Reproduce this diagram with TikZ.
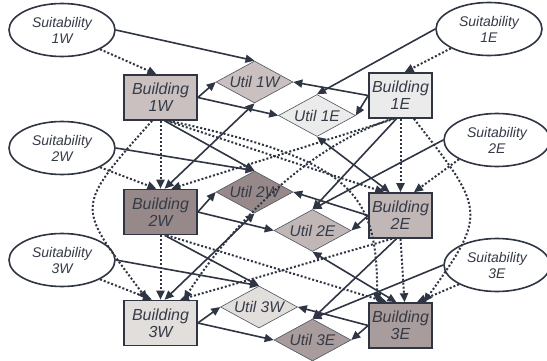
\documentclass[tikz,border=0pt]{standalone}
\usepackage{fontspec}
\setmainfont{Liberation Sans}
\usepackage{tikz}
\usetikzlibrary{arrows.meta,shapes}
\definecolor{ink}{HTML}{2F3542}
\definecolor{txt}{HTML}{363B48}
\definecolor{west1}{HTML}{C9C0BF}
\definecolor{east1}{HTML}{EBEBEB}
\definecolor{west2}{HTML}{978989}
\definecolor{east2}{HTML}{C1B7B7}
\definecolor{west3}{HTML}{E1DEDC}
\definecolor{east3}{HTML}{A89C9C}

\begin{document}
\begin{tikzpicture}[
    x=1pt, y=1pt,
    suit/.style = {ellipse, draw=ink, line width=1.6pt, fill=white, minimum width=106pt, minimum height=53pt, inner sep=0pt, align=center, text=txt, font=\fontsize{14}{16}\selectfont\itshape},
    bldw/.style = {rectangle, draw=ink, line width=1.6pt, minimum width=73pt, minimum height=45pt, inner sep=0pt, align=center, text=txt, font=\fontsize{16}{17}\selectfont\itshape},
    blde/.style = {bldw, minimum width=63pt},
    util/.style = {diamond, aspect=1.85, draw=ink!85, line width=0.6pt, minimum width=77pt, minimum height=42pt, inner sep=0pt, text=txt, font=\fontsize{15.5}{17}\selectfont\itshape},
    link/.style = {draw=ink, line width=1.6pt, -{Triangle[length=9pt,width=8pt]}},
    both/.style = {link, {Triangle[length=9pt,width=8pt]}-{Triangle[length=9pt,width=8pt]}},
    info/.style = {draw=ink, line width=2pt, dash pattern=on 2pt off 2pt, -{Triangle[length=9pt,width=8pt]}},
]
    \fill[white] (0,0) rectangle (547,360);
    \useasboundingbox (0,0) rectangle (547,360);

    % suitability
    \node[suit] (s1w) at (62,330) {Suitability\\1W};
    \node[suit] (s2w) at (62,212) {Suitability\\2W};
    \node[suit] (s3w) at (62,100) {Suitability\\3W};
    \node[suit] (s1e) at (489,331) {Suitability\\1E};
    \node[suit] (s2e) at (497,220) {Suitability\\2E};
    \node[suit] (s3e) at (497,95) {Suitability\\3E};

    % buildings
    \node[bldw, fill=west1] (b1w) at (160.5,262.5) {Building\\1W};
    \node[bldw, fill=west2] (b2w) at (160.5,148) {Building\\2W};
    \node[bldw, fill=west3] (b3w) at (160.5,37) {Building\\3W};
    \node[blde, fill=east1] (b1e) at (400.5,264.5) {Building\\1E};
    \node[blde, fill=east2] (b2e) at (400.5,144.5) {Building\\2E};
    \node[blde, fill=east3] (b3e) at (400.5,34.5) {Building\\3E};

    % utilities
    \node[util, fill=west1] (u1w) at (254.5,278) {Util 1W};
    \node[util, fill=east1] (u1e) at (317,244.5) {Util 1E};
    \node[util, fill=west2] (u2w) at (254.5,168) {Util 2W};
    \node[util, fill=east2] (u2e) at (312.5,129.5) {Util 2E};
    \node[util, fill=west3] (u3w) at (259,53) {Util 3W};
    \node[util, fill=east3] (u3e) at (312.5,20) {Util 3E};

    % suitability to utility
    \draw[link] (s1w.east) -- (u1w.north);
    \draw[link] (s2w.east) -- (u2w.north);
    \draw[link] (s3w.east) -- (u3w.north);
    \draw[link] (s1e.west) -- (u1e.north);
    \draw[link] (s2e.west) -- (u2e.north);
    \draw[link] (s3e.west) -- (u3e.north);

    % row 1
    \draw[link] (b1w.east) -- (u1w.west);
    \draw[link] (b1w.east) -- (u1e.west);
    \draw[link] (b1e.west) -- (u1w.east);
    \draw[link] (b1e.west) -- (u1e.east);
    % row 2
    \draw[link] (b2w.east) -- (u2w.west);
    \draw[link] (b2w.east) -- (u2e.west);
    \draw[link] (b2e.west) -- (u2w.east);
    \draw[link] (b2e.west) -- (u2e.east);
    % row 3
    \draw[link] (b3w.east) -- (u3w.west);
    \draw[link] (b3w.east) -- (u3e.west);
    \draw[link] (b3e.west) -- (u3w.east);
    \draw[link] (b3e.west) -- (u3e.east);

    % between rows
    \draw[link] (b1w.-80) -- (u2w.north);
    \draw[link] (b2w.-80) -- (u3w.north);
    \draw[link] (b1e.-100) -- (u2e.north);
    \draw[link] (b2e.-100) -- (u3e.north);
    \draw[both] (b2w.80) -- (u1w.south);
    \draw[both] (b3w.80) -- (u2w.south);
    \draw[both] (b2e.115) -- (u1e.south);
    \draw[both] (b3e.100) -- (u2e.south);

    % information arcs
    \draw[info] (s1w.south east) -- (b1w.100);
    \draw[info] (s2w.south east) -- (b2w.100);
    \draw[info] (s3w.south east) -- (b3w.110);
    \draw[info] (s1e.south west) -- (b1e.80);
    \draw[info] (s2e.south west) -- (b2e.60);
    \draw[info] (s3e.south west) -- (b3e.55);

    \draw[info] (b1w.south) -- (b2w.north);
    \draw[info] (b2w.south) -- (b3w.north);
    \draw[info] (b1e.south) -- (b2e.north);
    \draw[info] (b2e.south) -- (b3e.80);

    \draw[info] (b1w.-75) -- (b2e.125);
    \draw[info] (b1e.-105) -- (b2w.65);
    \draw[info] (b2w.-75) -- (b3e.120);
    \draw[info] (b2e.-110) -- (b3w.50);

    \draw[info] (b1w.-110) .. controls +(-80,-90) and +(-70,95) .. (b3w.120);
    \draw[info] (b1e.-60) .. controls +(70,-90) and +(65,90) .. (b3e.45);
    \draw[info] (b1w.-70) .. controls +(185,-40) and +(0,110) .. (b3e.135);
    \draw[info] (b1e.-110) .. controls +(-90,-30) and +(45,70) .. (b3w.45);

\end{tikzpicture}
\end{document}
